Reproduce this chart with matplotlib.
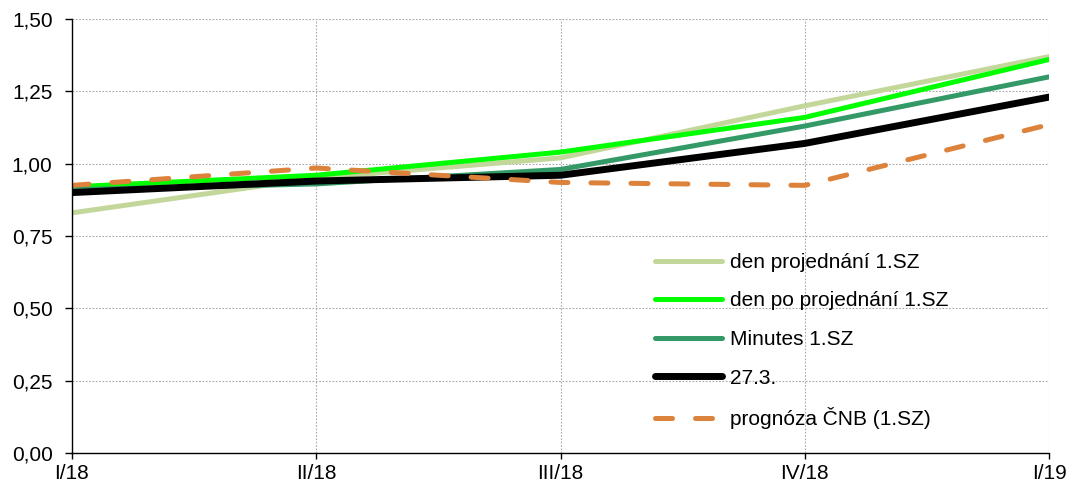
import matplotlib.pyplot as plt
from matplotlib.ticker import FuncFormatter, MultipleLocator

quarters = ["I/18", "II/18", "III/18", "IV/18", "I/19"]
den_projednani = [0.83, 0.95, 1.02, 1.20, 1.37]
den_po_projednani = [0.92, 0.96, 1.04, 1.16, 1.36]
minutes = [0.91, 0.93, 0.98, 1.13, 1.30]
d27_3 = [0.90, 0.94, 0.96, 1.07, 1.23]
prognoza_cnb = [0.925, 0.985, 0.935, 0.925, 1.135]

plt.rcParams['font.family'] = ['Liberation Sans', 'DejaVu Sans']
plt.rcParams['font.size'] = 15

fig, ax = plt.subplots(figsize=(10.71, 4.9), dpi=100)
fig.subplots_adjust(left=72 / 1071, right=1049 / 1071, top=1 - 19 / 490, bottom=1 - 453 / 490)

x = range(len(quarters))
ax.plot(x, den_projednani, color='#C4D79B', lw=3.6, label='den projednání 1.SZ', solid_capstyle='round')
ax.plot(x, den_po_projednani, color='#00FF00', lw=3.6, label='den po projednání 1.SZ', solid_capstyle='round')
ax.plot(x, minutes, color='#339966', lw=3.6, label='Minutes 1.SZ', solid_capstyle='round')
ax.plot(x, d27_3, color='black', lw=5, label='27.3.', solid_capstyle='round')
ax.plot(x, prognoza_cnb, color='#DD823B', lw=3.6, dashes=(3.4, 4.6), dash_capstyle='round',
        label='prognóza ČNB (1.SZ)')

ax.set_xlim(0, len(quarters) - 1)
ax.set_ylim(0, 1.5)
ax.set_xticks(list(x))
ax.set_xticklabels(quarters)
ax.yaxis.set_major_locator(MultipleLocator(0.25))
ax.yaxis.set_major_formatter(FuncFormatter(lambda v, p: f"{v:.2f}".replace('.', ',')))

ax.grid(True, color='#A8A8A8', linestyle=(0, (1.5, 1.5)), linewidth=0.8)
ax.set_axisbelow(True)
for s in ['top', 'right']:
    ax.spines[s].set_visible(False)
for s in ['left', 'bottom']:
    ax.spines[s].set_linewidth(1.0)
ax.tick_params(axis='y', direction='out', length=5, width=1, colors='black', pad=9, labelsize=15)
ax.tick_params(axis='x', direction='out', length=4, width=1, colors='black', pad=4, labelsize=15)

ax.legend(loc='lower left', bbox_to_anchor=((655 - 72) / 977, 0.055), frameon=False,
          borderpad=0, borderaxespad=0, handlelength=3.2, handletextpad=0.4,
          labelspacing=0.94, fontsize=15)

fig.savefig('out.png', dpi=100)
